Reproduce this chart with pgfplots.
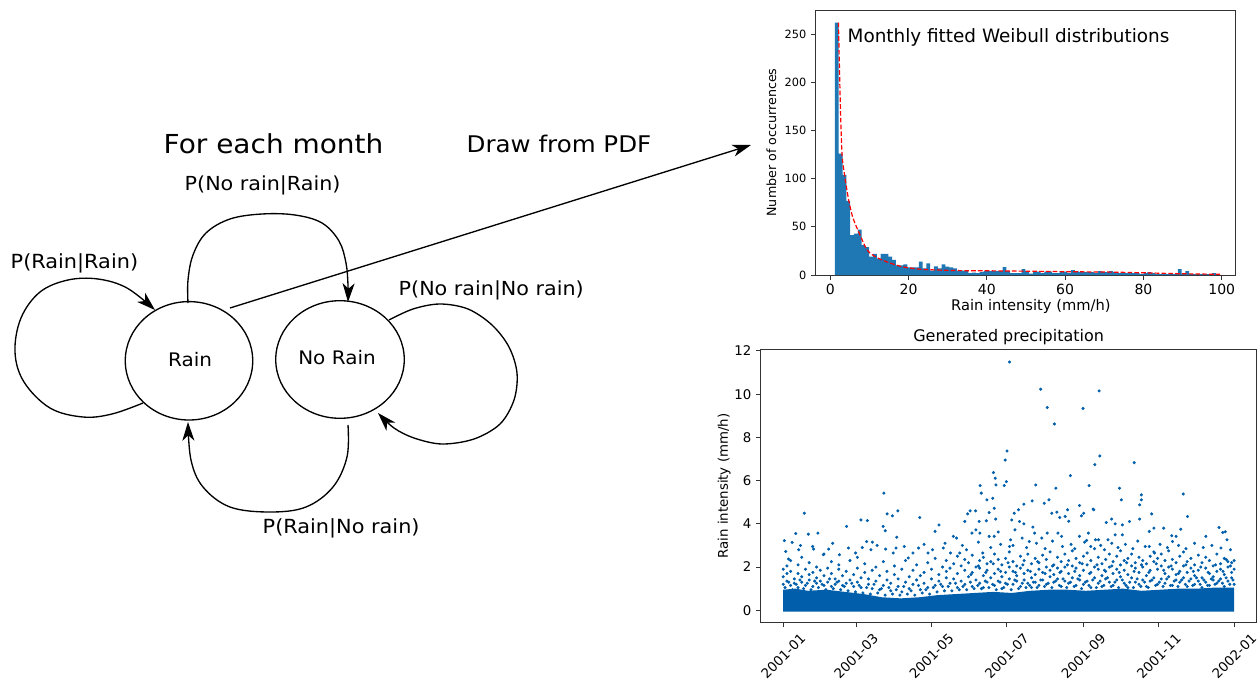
\documentclass[border=0pt]{standalone}
\usepackage{fontspec}
\setmainfont{DejaVu Sans}
\usepackage{pgfplots}
\pgfplotsset{compat=1.18}
\usetikzlibrary{arrows.meta}

\definecolor{histblue}{HTML}{1F77B4}
\definecolor{scatblue}{RGB}{0,94,170}
\newcommand{\fs}[1]{\fontsize{#1}{#1}\selectfont}

\pgfplotsset{
  figaxis/.style={
    scale only axis, anchor=north west,
    /pgf/number format/assume math mode=true,
    tick align=outside, xtick pos=lower, ytick pos=left,
    major tick length=3.5pt,
    axis line style={black!80, line width=0.7pt},
    every tick/.style={black!80, line width=0.7pt},
    clip=false,
  },
}

\begin{document}
\begin{tikzpicture}
\useasboundingbox (0,0) rectangle (945pt,-511.5pt);

% ---- Markov chain sketch (pixel units, y down) ----
\begin{scope}[x=0.75pt, y=-0.75pt, line width=1pt,
  arr/.style={-{Stealth[length=14pt, width=9pt, inset=4pt]}}]
  \draw (189,360.8) ellipse [x radius=47.8pt, y radius=44.4pt];
  \draw (340,359.5) ellipse [x radius=48.2pt, y radius=44.1pt];

  % Rain -> Rain
  \draw[arr] plot[smooth, tension=0.6] coordinates {(143,403) (112,414) (83,417) (50,408) (24,382) (15,352) (21,318) (40,292) (68,280) (98,279) (127,288) (155,310)};
  % Rain -> No Rain
  \draw[arr] plot[smooth, tension=0.6] coordinates {(188,303) (188,280) (193,255) (206,233) (230,219) (262,214) (295,215) (322,223) (339,241) (346,263) (348,285) (348,302)};
  % No Rain -> No Rain
  \draw[arr] plot[smooth, tension=0.55] coordinates {(389,320) (413,309) (440,304) (468,309) (492,325) (509,347) (517,373) (514,400) (500,424) (474,439) (442,444) (414,438) (394,428) (378,413)};
  % No Rain -> Rain
  \draw[arr] plot[smooth, tension=0.6] coordinates {(348,425) (347,457) (333,487) (306,507) (270,512) (230,507) (203,487) (191,460) (188,422)};
  % draw from PDF
  \draw[arr] (230,308) -- (751,145);

  \begin{scope}[every node/.style={inner sep=0pt, xscale=1.07}]
    \node[anchor=base west, font=\fs{19.6}] at (163,153) {For each month};
    \node[anchor=base west, font=\fs{17.2}] at (466,152) {Draw from PDF};
    \node[anchor=base west, font=\fs{14.5}] at (184,190) {P(No rain|Rain)};
    \node[anchor=base west, font=\fs{14.6}] at (10,268) {P(Rain|Rain)};
    \node[anchor=base west, font=\fs{14.5}] at (398,295) {P(No rain|No rain)};
    \node[anchor=base west, font=\fs{14.6}] at (262,533) {P(Rain|No rain)};
    \node[anchor=base, font=\fs{14}] at (190,366) {Rain};
    \node[anchor=base, font=\fs{14}] at (337,364) {No Rain};
  \end{scope}
\end{scope}

% ---- histogram ----
\begin{axis}[figaxis,
  at={(611.8pt,-7.5pt)}, width=314.5pt, height=198.75pt,
  xmin=-3.7, xmax=103.4, ymin=0, ymax=275.1,
  xtick={0,20,40,60,80,100}, ytick={0,50,100,150,200,250},
  x tick label style={font=\fs{10.5}},
  y tick label style={font=\fs{8.5}},
  xlabel={Rain intensity (mm/h)},
  xlabel style={font=\fs{11}, at={(axis description cs:0.513,-0.1347)}, anchor=base},
  ylabel={Number of occurrences},
  ylabel style={font=\fs{9.5}, at={(axis description cs:-0.0947,0.5)}, anchor=base},
]
\addplot[const plot, fill=histblue, draw=none] coordinates {
(1.20,262)(2.17,126)(3.15,104)(4.12,77)(5.09,41.5)(6.07,43)(7.04,47)(8.01,31)(8.98,29)(9.96,19)
(10.93,22)(11.90,17)(12.88,22)(13.85,22)(14.82,19)(15.80,15.6)(16.77,10)(17.74,10)(18.71,11)(19.69,8)
(20.66,8)(21.63,8)(22.61,14)(23.58,7)(24.55,12)(25.53,4.5)(26.50,9)(27.47,7)(28.44,11)(29.42,8.6)
(30.39,8)(31.36,7)(32.34,4)(33.31,4.5)(34.28,4)(35.26,2)(36.23,2.5)(37.20,2)(38.17,3)(39.15,4)
(40.12,4)(41.09,4)(42.07,4)(43.04,4)(44.01,8.3)(44.99,4)(45.96,2)(46.93,2)(47.90,2)(48.88,6.2)
(49.85,4)(50.82,1.4)(51.80,3.5)(52.77,3.5)(53.74,2)(54.72,3.5)(55.69,3.5)(56.66,2)(57.63,2)(58.61,4)
(59.58,3.5)(60.55,2)(61.53,5)(62.50,4)(63.47,3)(64.45,3)(65.42,3)(66.39,3)(67.36,2)(68.34,4)
(69.31,3)(70.28,3)(71.26,4)(72.23,3)(73.20,2)(74.18,2)(75.15,2)(76.12,2)(77.09,2)(78.07,2)
(79.04,1)(80.01,2)(80.99,3)(81.96,2)(82.93,1)(83.91,1)(84.88,1)(85.85,1)(86.82,1)(87.80,1)
(88.77,6.2)(89.74,1)(90.72,4)(91.69,1)(92.66,1)(93.64,1)(94.61,1)(95.58,1)(96.55,1)(97.53,2)
(98.50,2)
} \closedcycle;
\addplot[red, line width=0.9pt, dash pattern=on 3.5pt off 1.6pt, smooth, tension=0.4] coordinates {
(2.1,262)(2.55,182)(3.0,126)(3.65,104)(4.7,78)(5.7,60.5)(7.05,46.7)(8.95,29.4)(10.2,22.5)
(13.2,15.6)(18.3,8.65)(23.4,5.9)(30.2,4.8)(34.5,4.5)(45,4.2)(58.7,3.5)(71.5,3.0)(80,2.3)(88.5,1.4)(99.6,0.7)
};
\node[anchor=base west, inner sep=0pt, font=\fs{13.8}] at (rel axis cs:0.0754,0.8766) {Monthly fitted Weibull distributions};
\end{axis}

% ---- generated precipitation ----
\begin{axis}[figaxis,
  at={(570.5pt,-262pt)}, width=372pt, height=205pt,
  xmin=-18.25, xmax=383.25, ymin=-0.575, ymax=12.075,
  xtick={0,59,120,181,243,304,365},
  xticklabels={2001-01,2001-03,2001-05,2001-07,2001-09,2001-11,2002-01},
  ytick={0,2,4,6,8,10,12},
  x tick label style={font=\fs{10}, anchor=center, yshift=-21.5pt, rotate=45},
  y tick label style={font=\fs{10}},
  ylabel={Rain intensity (mm/h)},
  ylabel style={font=\fs{10}, at={(axis description cs:-0.066,0.5)}, anchor=base},
  title={Generated precipitation},
  every axis title shift=0pt,
  title style={font=\fs{12}, at={(axis description cs:0.5,1.0278)}, anchor=base, yshift=0pt},
]
% dense band near zero
\addplot[fill=scatblue, draw=none] coordinates {
(0,-0.06)(0,0.95)(10,1.0)(20,0.9)(35,0.95)(50,0.85)(65,0.75)(80,0.6)(95,0.55)(110,0.6)(125,0.7)
(140,0.75)(155,0.8)(170,0.85)(185,0.8)(200,0.9)(215,0.95)(230,0.95)(245,0.9)(260,0.95)(275,1.0)
(290,0.9)(305,0.95)(320,1.0)(335,1.0)(350,1.05)(365,1.05)(365,-0.06)
} -- cycle;
% scattered hours
\addplot[only marks, color=scatblue, mark=*, mark size=0.95pt, mark options={draw=none, fill=scatblue}] coordinates {
(0,1.55)(0,1.9)(0,1.2)(3,1.35)(3,2.05)(3,1.7)(6,1.15)(6,1.8)(6,2.3)(9,1.45)(9,1.25)(12,1.7)(12,2.1)(12,1.05)
(15,1.3)(15,1.55)(15,2.45)(18,1.9)(18,1.15)(21,1.4)(21,2.2)(21,1.65)(24,1.1)(24,1.75)(27,1.5)(27,2.0)(27,1.25)
(30,1.85)(30,1.35)(33,1.6)(33,2.6)(33,1.15)(36,1.3)(36,1.95)(39,1.7)(39,1.1)(39,2.25)(42,1.45)(42,1.2)
(45,1.9)(45,1.35)(45,2.1)(48,1.6)(48,1.15)(51,1.25)(51,1.8)(54,2.3)(54,1.4)(57,1.1)(57,1.65)(60,1.95)(60,1.3)
(60,2.45)(63,1.5)(63,1.05)(66,1.75)(66,2.15)(69,1.2)(69,1.45)(72,1.85)(72,1.0)(75,1.35)(75,2.0)(78,1.6)(78,0.95)
(81,1.15)(81,2.25)(84,1.4)(84,1.8)(87,0.9)(87,1.25)(90,1.65)(90,2.05)(93,1.1)(93,1.45)(96,1.9)(96,0.85)
(99,1.3)(99,2.3)(102,1.55)(102,1.0)(105,1.2)(105,1.85)(108,2.1)(108,1.4)(111,0.95)(111,1.6)(114,1.75)(114,1.25)
(117,2.2)(117,1.05)(120,1.45)(120,1.9)(123,1.15)(123,2.4)(126,1.65)(126,1.35)(129,2.0)(129,1.1)(132,1.5)
(132,2.3)(132,1.8)(135,1.25)(135,1.95)(138,2.15)(138,1.45)(141,1.05)(141,1.7)(141,2.5)(144,1.35)(144,2.05)
(147,1.85)(147,1.2)(147,2.35)(150,1.55)(150,2.2)(153,1.1)(153,1.75)(153,2.55)(156,1.4)(156,2.0)(159,1.95)
(159,1.25)(159,2.3)(162,1.6)(162,2.45)(162,1.05)(165,1.3)(165,1.85)(165,2.15)(168,2.25)(168,1.5)(171,1.15)
(171,1.7)(171,2.6)(174,1.9)(174,1.35)(174,2.35)(177,1.55)(177,2.1)(177,1.0)(180,1.75)(180,1.25)(180,2.4)
(183,2.0)(183,1.45)(183,2.7)(186,1.2)(186,1.8)(186,2.25)(189,1.6)(189,2.05)(189,1.35)(192,1.95)(192,1.1)
(192,2.5)(195,1.4)(195,2.3)(195,1.7)(198,1.85)(198,1.25)(198,2.6)(201,1.5)(201,2.15)(201,1.05)(204,2.4)
(204,1.65)(204,1.3)(207,1.15)(207,1.9)(207,2.2)(210,1.75)(210,2.55)(210,1.4)(213,2.0)(213,1.2)(213,2.35)
(216,1.55)(216,2.7)(216,1.85)(219,1.3)(219,2.1)(219,1.65)(222,2.45)(222,1.45)(222,1.95)(225,1.1)(225,1.8)
(225,2.25)(228,2.6)(228,1.35)(228,2.0)(231,1.7)(231,2.3)(231,1.25)(234,1.5)(234,2.05)(234,2.75)(237,1.95)
(237,1.15)(237,2.4)(240,1.6)(240,2.2)(240,1.4)(243,2.5)(243,1.85)(243,1.2)(246,1.35)(246,2.1)(246,2.65)
(249,1.75)(249,1.05)(249,2.3)(252,2.0)(252,1.5)(252,2.85)(255,1.25)(255,1.9)(255,2.45)(258,2.15)(258,1.6)
(258,1.1)(261,1.45)(261,2.35)(261,1.8)(264,2.6)(264,1.3)(264,2.0)(267,1.7)(267,2.25)(267,1.15)(270,1.9)
(270,1.4)(270,2.5)(273,2.1)(273,1.55)(273,2.75)(276,1.25)(276,1.85)(276,2.3)(279,2.4)(279,1.65)(279,1.05)
(282,1.5)(282,2.05)(282,2.6)(285,1.95)(285,1.3)(285,2.2)(288,1.75)(288,2.45)(288,1.2)(291,1.4)(291,2.0)
(291,2.3)(294,2.15)(294,1.6)(294,1.1)(297,1.85)(297,1.35)(297,2.5)(300,1.5)(300,2.25)(300,2.7)(303,1.2)
(303,1.9)(303,2.4)(306,2.05)(306,1.45)(306,2.6)(309,1.7)(309,2.3)(309,1.25)(312,1.55)(312,2.0)(312,2.75)
(315,1.9)(315,1.15)(315,2.35)(318,2.2)(318,1.65)(318,1.4)(321,1.3)(321,2.5)(321,1.8)(324,2.05)(324,1.5)
(324,2.7)(327,1.75)(327,1.1)(327,2.25)(330,1.45)(330,2.4)(330,1.95)(333,2.1)(333,1.6)(333,1.2)(336,1.85)
(336,2.55)(336,1.35)(339,1.5)(339,2.2)(339,1.05)(342,1.95)(342,1.3)(342,2.45)(345,2.3)(345,1.7)(345,1.15)
(348,1.55)(348,2.05)(348,1.4)(351,1.8)(351,2.6)(351,1.25)(354,2.15)(354,1.45)(354,1.9)(357,1.65)(357,2.4)
(357,1.1)(360,2.0)(360,1.35)(360,2.25)(363,1.75)(363,2.2)(363,1.5)(365,1.9)(365,2.3)(365,1.2)
(1.5,1.05)(4.5,1.3)(7.5,0.95)(10.5,1.2)(13.5,1.4)(16.5,1.0)(19.5,1.25)(22.5,0.95)(25.5,1.35)(28.5,1.05)
(31.5,1.2)(34.5,0.95)(37.5,1.45)(40.5,1.0)(43.5,1.3)(46.5,0.95)(49.5,1.1)(52.5,0.9)(55.5,1.25)(58.5,0.85)
(61.5,1.15)(64.5,0.8)(67.5,1.05)(70.5,0.75)(73.5,1.2)(76.5,0.8)(79.5,1.0)(82.5,0.7)(85.5,1.05)(88.5,0.75)
(91.5,0.95)(94.5,0.7)(97.5,1.1)(100.5,0.75)(103.5,0.9)(106.5,0.7)(109.5,1.15)(112.5,0.8)(115.5,0.95)
(118.5,0.75)(121.5,1.05)(124.5,0.85)(127.5,1.2)(130.5,0.9)(133.5,1.1)(136.5,0.9)(139.5,1.25)(142.5,0.95)
(145.5,1.1)(148.5,0.95)(151.5,1.3)(154.5,1.0)(157.5,1.15)(160.5,1.0)(163.5,1.35)(166.5,1.05)(169.5,1.2)
(172.5,0.95)(175.5,1.3)(178.5,1.05)(181.5,1.2)(184.5,0.95)(187.5,1.4)(190.5,1.0)(193.5,1.25)(196.5,1.05)
(199.5,1.15)(202.5,1.3)(205.5,1.05)(208.5,1.4)(211.5,1.1)(214.5,1.25)(217.5,1.05)(220.5,1.35)(223.5,1.15)
(226.5,1.45)(229.5,1.05)(232.5,1.3)(235.5,1.1)(238.5,1.45)(241.5,1.0)(244.5,1.3)(247.5,1.15)(250.5,1.4)
(253.5,1.05)(256.5,1.35)(259.5,1.15)(262.5,1.5)(265.5,1.1)(268.5,1.3)(271.5,1.05)(274.5,1.4)(277.5,1.15)
(280.5,1.3)(283.5,1.05)(286.5,1.45)(289.5,1.1)(292.5,1.3)(295.5,1.05)(298.5,1.4)(301.5,1.15)(304.5,1.3)
(307.5,1.1)(310.5,1.45)(313.5,1.15)(316.5,1.35)(319.5,1.1)(322.5,1.4)(325.5,1.2)(328.5,1.35)(331.5,1.15)
(334.5,1.5)(337.5,1.2)(340.5,1.4)(343.5,1.15)(346.5,1.45)(349.5,1.2)(352.5,1.35)(355.5,1.25)(358.5,1.5)
(361.5,1.2)(364,1.4)
(152,1.65)(158,2.05)(164,1.75)(170,2.15)(176,1.8)(182,2.2)(188,1.75)(194,2.1)(200,1.8)(206,2.25)(212,1.7)
(218,2.05)(224,1.75)(230,2.1)(236,1.8)(242,2.15)(248,1.7)(254,2.1)(260,1.85)(266,2.05)(272,1.75)(278,2.2)
(284,1.8)(290,2.1)(296,1.75)(302,2.15)(308,1.85)(314,2.05)(320,1.7)(326,2.1)(332,1.8)(338,2.0)(344,1.75)
(350,2.1)(356,1.8)(362,2.05)
(183.2,11.49)(208.4,10.23)(213.7,9.38)(219.5,8.62)(242.7,9.34)(255.7,10.15)(181.2,7.37)(179.7,6.95)
(256.3,7.14)(252.2,6.74)(284.1,6.83)(170.2,6.37)(171.6,6.11)(172.2,5.8)(180.6,5.95)(178.9,5.77)(159.4,5.77)
(160.3,5.42)(164.9,5.11)(169.6,5.18)(204.4,5.8)(220.7,5.65)(232.5,6.23)(247.6,5.77)(251.4,4.65)(272.2,5.65)
(273.7,5.11)(289.9,5.34)(289.9,5.11)(323.8,5.38)(81.5,5.42)(17.1,4.49)(0.9,3.22)(2.0,2.72)(10.1,3.55)
(20.3,3.52)(28.1,3.57)(24.6,2.83)(7.2,3.14)(4.3,2.37)(12.5,2.8)(23.8,2.95)(51.3,3.88)(52.8,2.88)(62.9,4.18)
(68.1,4.15)(67.5,3.18)(72.2,3.15)(80.9,3.88)(82.6,3.68)(84.1,4.46)(88.4,4.37)(92.8,4.6)(91.9,3.38)(91.3,2.88)
(82.9,2.83)(110.5,4.29)(109.6,2.88)(122.9,3.65)(126.1,3.95)(129.6,2.88)(137.7,3.42)(140.3,3.34)(147,4.11)
(149.3,4.46)(151.3,4.6)(155.7,4.6)(152.8,3.57)(158.6,4.11)(159.2,3.57)(164.4,4.14)(166.7,4.52)(170.8,4.72)
(172,4.22)(170.8,3.42)(174,3.62)(185,4.18)(187,4.49)(190.5,4.65)(194.8,4.91)(191.3,4.11)(194.8,4.0)
(187.6,3.72)(201.5,5.06)(202.1,3.85)(211.3,4.95)(215.1,5.11)(217.4,4.49)(221.5,4.54)(223.8,4.29)(228.2,4.34)
(230.2,4.65)(231.1,4.12)(239.8,4.85)(241.4,4.37)(243.2,4.49)(247,3.57)(250.8,4.68)(255.2,3.26)(261.5,4.06)
(265.8,4.22)(268.7,4.0)(274.5,3.95)(274.5,3.49)(280.3,4.11)(288.5,4.22)(288.5,4.88)(296.3,3.65)(298.3,4.46)
(300.1,3.8)(308,3.8)(318,3.42)(321.8,3.75)(327.3,4.34)(342.1,3.42)(352.8,3.83)(355.8,3.6)(357.8,3.63)
(359.2,3.26)(354.3,2.88)(358.7,2.34)(314.5,3.45)(315.1,3.18)(300.6,2.65)(296.3,2.95)(268.7,3.49)(262.9,3.26)
(252.8,3.26)(245.6,3.23)(239.8,3.42)(225.3,3.42)(222.4,3.57)(213.7,3.57)(209.3,3.34)(203.5,3.57)(199.2,3.18)
(193.4,3.34)(184.1,3.26)(183.2,2.95)(166.7,3.42)(161.5,2.65)(156,3.72)(148.4,2.8)(142.9,2.65)(135.4,2.65)
(120.9,2.8)(117.2,2.65)(105,2.65)(101.2,2.42)(89,2.65)(71,2.8)(58.6,2.65)(45.5,2.57)(36.8,2.83)(32.5,2.57)
(186,3.0)(197,2.9)(205,3.1)(212,2.85)(218,3.2)(226,2.95)(233,3.05)(236,2.85)(244,3.15)(249,2.95)(257,3.0)
(260,2.8)(266,3.1)(271,2.9)(277,3.05)(283,2.85)(287,3.2)(293,2.95)(305,3.05)(311,2.9)(320,3.0)(326,2.85)
(333,3.1)(340,2.9)(347,3.0)(362,2.8)(176,3.05)(168,2.9)(158,3.15)(145,3.0)(131,3.1)(114,3.05)(98,2.95)
(76,3.0)(64,2.9)(40,3.1)(14,3.0)
};
\end{axis}
\end{tikzpicture}
\end{document}
